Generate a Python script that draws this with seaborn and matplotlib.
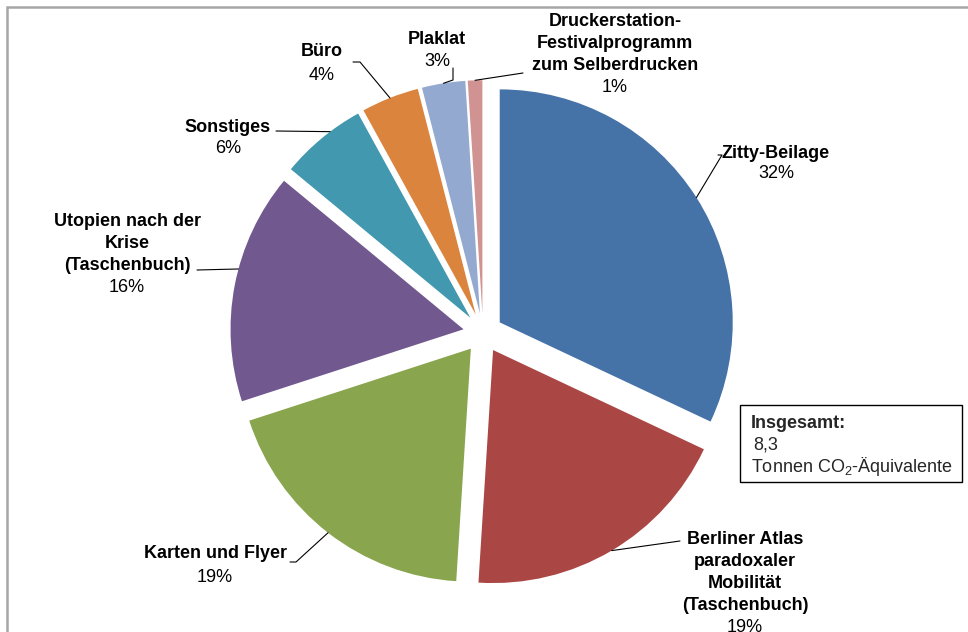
import numpy as np
import matplotlib
matplotlib.use("Agg")
import matplotlib.pyplot as plt
from matplotlib.patches import Rectangle
import seaborn as sns

# ==========================================
# Data
# ==========================================
categories = [
    "Zitty-Beilage",
    "Berliner Atlas\nparadoxaler\nMobilität\n(Taschenbuch)",
    "Karten und Flyer",
    "Utopien nach der\nKrise\n(Taschenbuch)",
    "Sonstiges",
    "Büro",
    "Plaklat",
    "Druckerstation-\nFestivalprogramm\nzum Selberdrucken",
]
shares = [32, 19, 19, 16, 6, 4, 3, 1]
pct_labels = ["32%", "19%", "19%", "16%", "6%", "4%", "3%", "1%"]
colors = ["#4572A7", "#AA4643", "#89A54E", "#71588F",
          "#4198AF", "#DB843D", "#93A9CF", "#D19392"]
total_value = "8,3"

# ==========================================
# Style
# ==========================================
sns.set_theme(style="white")
plt.rcParams["font.family"] = ["Liberation Sans", "DejaVu Sans"]
plt.rcParams["mathtext.fontset"] = "custom"
plt.rcParams["mathtext.rm"] = "Liberation Sans"
FS = 13

W, H = 968, 632
CX, CY, R = 483, 333, 233   # pie centre / radius in pixels


def px(x, y):
    """pixel (from top-left) -> data coords (pie radius = 1)"""
    return (x - CX) / R, (CY - y) / R


fig = plt.figure(figsize=(W / 100, H / 100), dpi=100)
ax = fig.add_axes([0, 0, 1, 1])

# outer chart border (only top/left visible)
fig.patches.append(Rectangle((7 / W, -0.1), 1.2, 1 - 7 / H + 0.1, transform=fig.transFigure,
                             fill=False, edgecolor="#a6a6a6", linewidth=1.8))

explode = [0.085] * len(shares)
wedges, _ = ax.pie(shares, colors=sns.color_palette(colors), startangle=90, counterclock=False,
                   explode=explode, radius=1, center=(0, 0),
                   wedgeprops=dict(edgecolor="none"))

# pie() resets the limits, so set them afterwards
ax.set_xlim(-CX / R, (W - CX) / R)
ax.set_ylim(-(H - CY) / R, CY / R)
ax.set_aspect("equal")
ax.axis("off")

# label layout (pixels): centre x, y of each name line, y of pct line, leader elbow + end
# "ang": where the leader touches the arc (degrees), default = middle of slice
layout = [
    dict(x=776, ys=[153], py=174, leader=[(722, 155), (718, 155)]),
    dict(x=745, ys=[540, 562, 584, 606], py=627, leader=[(680, 541)]),
    dict(x=215, ys=[553], py=577, leader=[(296, 562), (290, 562)]),
    dict(x=127, ys=[222, 244, 266], py=287, leader=[(197, 270)], ang=165),
    dict(x=228, ys=[127], py=148, leader=[(276, 131)], ang=127),
    dict(x=322, ys=[52], py=75, leader=[(360, 62), (353, 62)]),
    dict(x=437, ys=[40], py=62, leader=[(453, 80), (453, 68)]),
    dict(x=615, ys=[22, 44, 66], py=87, leader=[(523, 73)]),
]

for w, name, pct, lay in zip(wedges, categories, pct_labels, layout):
    ang = np.deg2rad(lay.get("ang", (w.theta1 + w.theta2) / 2))
    cx, cy = w.center
    start = (cx + np.cos(ang), cy + np.sin(ang))
    pts = [start] + [px(*p) for p in lay["leader"]]
    ax.plot([p[0] for p in pts], [p[1] for p in pts], color="black", lw=0.8)
    for line, y in zip(name.split("\n"), lay["ys"]):
        ax.text(*px(lay["x"], y), line, ha="center", va="center",
                fontsize=FS, fontweight="bold", color="black")
    ax.text(*px(lay["x"], lay["py"]), pct, ha="center", va="center",
            fontsize=FS, color="black")

# total box
bx0, by0 = px(740, 482)
bx1, by1 = px(962, 405)
ax.add_patch(Rectangle((bx0, by0), bx1 - bx0, by1 - by0, fill=True,
                       facecolor="white", edgecolor="black", lw=1))
ax.text(*px(751, 424), "Insgesamt:", ha="left", va="center",
        fontsize=FS, fontweight="bold")
ax.text(*px(753, 445), total_value, ha="left", va="center", fontsize=FS)
ax.text(*px(751, 466), "Tonnen CO$_2$-Äquivalente", ha="left", va="center", fontsize=FS)

fig.savefig("out.png", dpi=100)
